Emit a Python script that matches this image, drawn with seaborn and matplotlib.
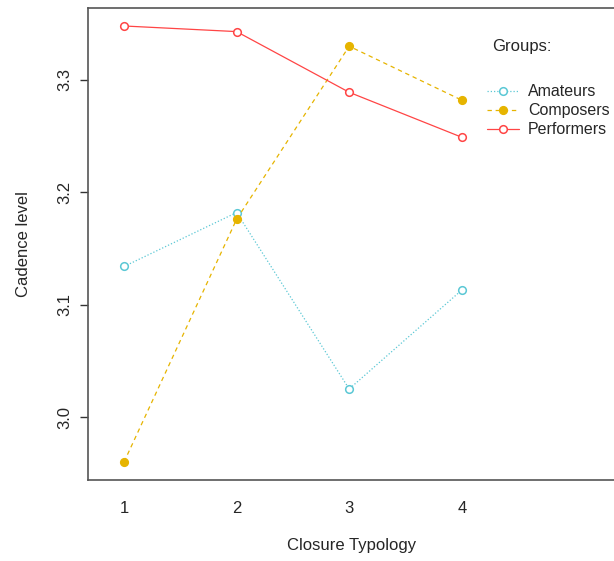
import matplotlib
matplotlib.use("Agg")
import matplotlib.pyplot as plt
import seaborn as sns
import pandas as pd

# ---------------- data ----------------
typology = [1, 2, 3, 4]
amateurs = [3.134, 3.182, 3.025, 3.113]
composers = [2.960, 3.176, 3.330, 3.282]
performers = [3.348, 3.343, 3.289, 3.249]
groups = ["Amateurs", "Composers", "Performers"]
y_ticks = [3.0, 3.1, 3.2, 3.3]

df = pd.DataFrame({
    "typology": typology * 3,
    "level": amateurs + composers + performers,
    "group": [g for g in groups for _ in typology],
})

sns.set_style("white")
plt.rcParams["font.family"] = ["Liberation Sans", "DejaVu Sans"]

colors = {"Amateurs": "#5BC8D5", "Composers": "#E6B400", "Performers": "#FF4545"}
styles = {"Amateurs": (0, (1, 1.6)), "Composers": (0, (3.5, 3)), "Performers": "-"}
faces = {"Amateurs": "white", "Composers": "#E6B400", "Performers": "white"}

fig = plt.figure(figsize=(6.14, 5.61), dpi=100)
ax = fig.add_axes([88 / 614, (561 - 480) / 561, (616 - 88) / 614, (480 - 8) / 561])

for g in groups:
    sub = df[df["group"] == g]
    sns.lineplot(data=sub, x="typology", y="level", ax=ax, color=colors[g],
                 linestyle=styles[g], linewidth=0.9, marker="o", markersize=5.5,
                 markeredgecolor=colors[g], markerfacecolor=faces[g],
                 markeredgewidth=1.1, label=g)

ax.set_xlim(0.68, 5.37)
ax.set_ylim(2.944, 3.364)
ax.set_xticks(typology)
ax.set_xticklabels([str(t) for t in typology])
ax.set_yticks(y_ticks)
ax.set_yticklabels([f"{v:.1f}" for v in y_ticks], rotation=90, va="center")
ax.tick_params(axis="x", length=0, pad=15, labelsize=12)
ax.tick_params(axis="y", length=6, width=1, pad=5, labelsize=12, color="#333333", left=True)
for s in ax.spines.values():
    s.set_color("#555555")
    s.set_linewidth(1.2)

ax.set_xlabel("Closure Typology", fontsize=12, labelpad=16)
ax.set_ylabel("Cadence level", fontsize=12, labelpad=19)

fig.text(492 / 614, 1 - 47 / 561, "Groups:", fontsize=12, va="center", ha="left")
ax.legend(loc="upper left", bbox_to_anchor=((481 - 88) / 528, (480 - 78) / 472),
          frameon=False, fontsize=11.5, handlelength=2.0, handletextpad=0.55,
          labelspacing=0.25, borderaxespad=0)

fig.savefig("out.png", dpi=100)
